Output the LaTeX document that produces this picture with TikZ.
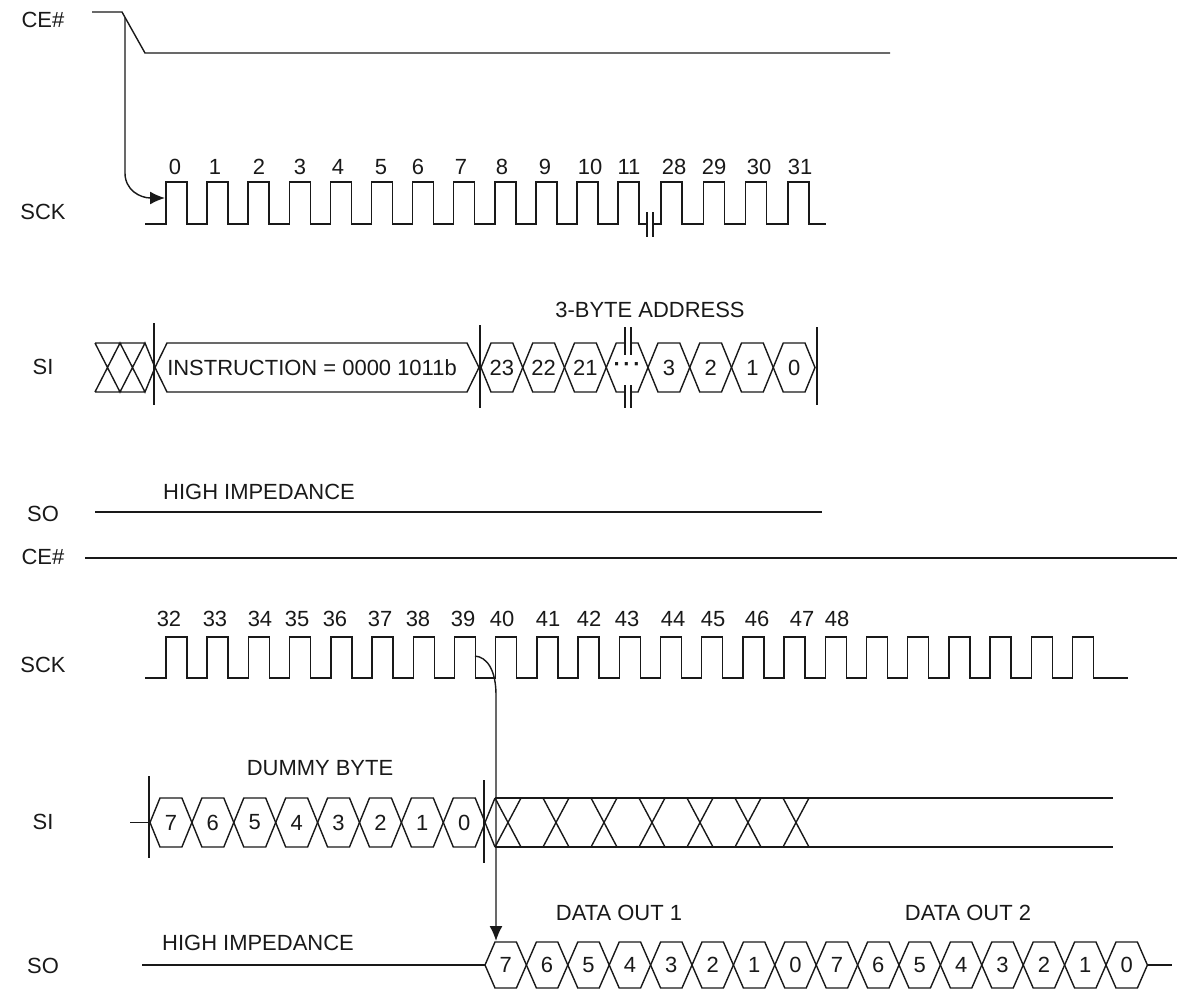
\documentclass[tikz,border=0pt]{standalone}
\usepackage{fontspec}
\setmainfont{Liberation Sans}
\usetikzlibrary{arrows.meta}
\tikzset{
    sig/.style={line width=0.8pt, draw=black!90},
    lbl/.style={font=\fontsize{12.5}{15}\selectfont, inner sep=0pt, text=black!90},
    pics/hexcell/.style args={#1/#2}{
    code = {
		\draw[sig] (0,0) -- (10,-24.5) -- (#1-10,-24.5) -- (#1,0)
         -- (#1-10,24.5) -- (10,24.5) -- cycle;
	    \node[lbl] (-txt) at (#1/2,0) {#2};
    }},
    pics/outcell/.style args={#1/#2}{
    code = {
		\draw[sig] (0,0) -- (10,-23) -- (#1-10,-23) -- (#1,0)
         -- (#1-10,23) -- (10,23) -- cycle;
	    \node[lbl] (-txt) at (#1/2,0) {#2};
    }}
}
\newcommand{\skipdots}{\textbf{\textperiodcentered\kern1.5pt\textperiodcentered\kern1.5pt\textperiodcentered}}
\begin{document}
\begin{tikzpicture}[x=0.02cm,y=-0.02cm]
		\useasboundingbox (0,0) rectangle (1177,992);

		% signal names
	    \node[lbl] (ceA) at (43,20) {CE\#};
	    \node[lbl] (sckA) at (43,212) {SCK};
	    \node[lbl] (siA) at (43,367) {SI};
	    \node[lbl] (soA) at (43,514) {SO};
	    \node[lbl] (ceB) at (43,557) {CE\#};
	    \node[lbl] (sckB) at (43,665) {SCK};
	    \node[lbl] (siB) at (43,822) {SI};
	    \node[lbl] (soB) at (43,966) {SO};

		% CE# going low
		\draw[sig] (92,12) -- (122,12) -- (145,53) -- (890,53);
		\coordinate (cefall) at (125,17.3);

		% SCK, cycles 0 to 31
		\draw[sig] (145,224) \foreach \i in {0,...,11} {
         -- ({166+41.1*\i},224) -- ++(0,-42) -- ++(21,0) -- ++(0,42)} -- (647,224);
		\draw[sig] (653,224) \foreach \i in {0,...,3} {
         -- ({661+42.3*\i},224) -- ++(0,-42) -- ++(21,0) -- ++(0,42)} -- (826,224);
		\draw[sig] (647,212) -- (647,237) (653,212) -- (653,237);
		\coordinate (clk0) at (165,198);
		\foreach \n/\x in {0/175,1/215,2/259,3/300,4/338,5/381,6/418,7/461,8/502,
         9/545,10/590,11/629,28/674,29/714,30/759,31/800}
	    \node[lbl] (n\n) at (\x,167) {\n};

		% SI, instruction and address
		\draw[sig] (95,343) -- (145,343) (95,392) -- (145,392)
         (95,343) -- (120,392) -- (145,343) -- (155,367.5)
         (95,392) -- (120,343) -- (145,392) -- (155,367.5);
		\draw[sig] (155,367.5) -- (167,343) -- (467,343) -- (479,367.5)
         -- (467,392) -- (167,392) -- cycle;
	    \node[lbl] (instr) at (312,368) {INSTRUCTION = 0000 1011b};
		\foreach \t [count=\k from 0] in {23,22,21,\skipdots,3,2,1,0}
		\pic (ad\k) at ({481+41.75*\k},367.5) {hexcell=41.75/\t};
		\fill[white] (625,339) rectangle (631,347) (625,388) rectangle (631,396);
		\draw[sig] (625,327) -- (625,355) (631,327) -- (631,355)
         (625,385) -- (625,408) (631,385) -- (631,408);
		\draw[sig] (154,323) -- (154,405) (480,325) -- (480,408) (817,327) -- (817,405);
	    \node[lbl] (addr) at (650,310) {3-BYTE ADDRESS};

		% SO high impedance
		\draw[sig] (95,512) -- (822,512);
	    \node[lbl] (hizA) at (259,492) {HIGH IMPEDANCE};

		% second half
		\draw[sig] (85,558) -- (1177,558);

		\draw[sig] (145,678) \foreach \i in {0,...,22} {
         -- ({166+41.2*\i},678) -- ++(0,-41) -- ++(21,0) -- ++(0,41)} -- (1128,678);
		\foreach \n/\x in {32/169,33/215,34/260,35/297,36/335,37/380,38/418,39/463,
         40/502,41/548,42/589,43/627,44/673,45/713,46/757,47/802,48/837}
	    \node[lbl] (n\n) at (\x,619) {\n};
		\coordinate (clk39) at (475,656);

		% SI, dummy byte then don't care
		\draw[sig] (130,822.5) -- (150,822.5);
		\foreach \t [count=\k from 0] in {7,6,5,4,3,2,1,0}
		\pic (dm\k) at ({150+41.9*\k},822.5) {hexcell=41.9/\t};
		\draw[sig] (485,822.5) -- (495,798) (485,822.5) -- (495,847);
		\draw[sig] (495,798) -- (1113,798) (495,847) -- (1113,847);
		\foreach \c in {508,556,604,652,700,748,796}
		\draw[sig] (\c-13,798) -- (\c+13,847) (\c-13,847) -- (\c+13,798);
		\draw[sig] (149,776) -- (149,858) (484,780) -- (484,863);
	    \node[lbl] (dummy) at (320,768) {DUMMY BYTE};

		% SO, data out
		\draw[sig] (142,965) -- (485,965);
		\foreach \t [count=\k from 0] in {7,6,5,4,3,2,1,0,7,6,5,4,3,2,1,0}
		\pic (do\k) at ({485+41.4*\k},965) {outcell=41.4/\t};
		\draw[sig] (1147,965) -- (1172,965);
		\coordinate (dout) at (496,941);
	    \node[lbl] (hizB) at (258,943) {HIGH IMPEDANCE};
	    \node[lbl] (outA) at (619,913) {DATA OUT 1};
	    \node[lbl] (outB) at (968,913) {DATA OUT 2};

		% arrows
		\draw[sig,-{Latex[length=3mm,width=2.6mm]}] (cefall) -- (125,173)
         .. controls (125,190) and (140,198) .. (clk0);
		\draw[sig,-{Latex[length=3mm,width=2.6mm]}] (clk39)
         .. controls (487,657) and (496,670) .. (496,695) -- (dout);
\end{tikzpicture}
\end{document}
